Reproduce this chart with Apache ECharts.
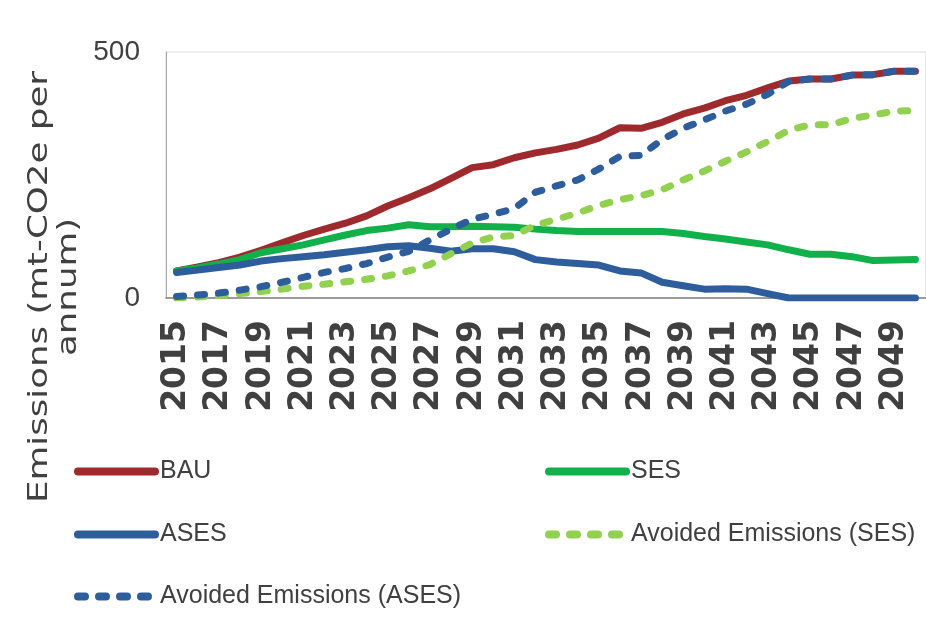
<!DOCTYPE html>
<html>
<head>
<meta charset="utf-8">
<script src="https://cdn.jsdelivr.net/npm/echarts@6/dist/echarts.min.js"></script>
<style>
html,body{margin:0;padding:0;background:#fff;}
#chart{width:926px;height:618px;}
</style>
</head>
<body>
<div id="chart"></div>
<script>
const years = ['2015','2016','2017','2018','2019','2020','2021','2022','2023','2024','2025','2026','2027','2028','2029','2030','2031','2032','2033','2034','2035','2036','2037','2038','2039','2040','2041','2042','2043','2044','2045','2046','2047','2048','2049','2050'];
const bau = [55,63,72,83,97,112,127,140,152,167,187,204,222,243,265,271,285,295,302,311,325,346,345,357,374,386,401,412,427,441,445,445,453,454,461,461];
const ses = [55,61,69,78,92,100,108,118,128,137,142,149,145,145,146,145,144,140,137,135,135,135,135,135,131,125,120,114,108,98,89,89,84,76,77,78];
const ases = [52,57,62,67,75,80,84,88,93,98,104,106,101,95,100,100,94,78,73,70,67,55,51,32,25,18,19,18,9,0,0,0,0,0,0,0];
const avoidedSes = [0,2,5,9,13,18,24,28,33,38,45,55,68,90,112,124,127,148,160,173,188,200,208,220,240,258,278,297,318,341,352,352,365,372,380,381];
const avoidedAses = [3,6,10,16,23,32,42,52,60,70,83,95,118,140,160,170,182,215,228,240,262,288,290,322,345,362,380,394,414,440,445,445,453,454,461,461];
const yTicks = [0, 500];
const seriesNames = ['BAU','SES','ASES','Avoided Emissions (SES)','Avoided Emissions (ASES)'];

const colors = {
  bau: '#9E2A2D',
  ses: '#12B04B',
  ases: '#2E5D9C',
  avSes: '#92D050',
  avAses: '#2E5D9C'
};

const chart = echarts.init(document.getElementById('chart'), null, {renderer: 'canvas'});

const legendText = {fontSize: 25, fontFamily: '"Liberation Sans", Arial, sans-serif', color: '#404040'};
function mkLegend(name, left, top) {
  return {
    data: [name], left: left, top: top, padding: 0, itemGap: 0,
    itemWidth: 77, itemHeight: 16, selectedMode: false,
    itemStyle: {opacity: 0},
    lineStyle: {width: 8, cap: 'round'},
    textStyle: legendText
  };
}

function mkSeries(name, data, color, dashed) {
  return {
    name: name, type: 'line', data: data, symbol: 'none', showSymbol: false,
    smooth: false, animation: false,
    lineStyle: {color: color, width: 7, type: dashed ? [7, 14] : 'solid', cap: 'round', join: 'round'},
    itemStyle: {color: color}
  };
}

chart.setOption({
  animation: false,
  backgroundColor: '#ffffff',
  grid: {left: 166, right: 0, top: 52, bottom: 320, show: true, borderColor: '#d9d9d9', borderWidth: 1, containLabel: false},
  legend: [
    mkLegend(seriesNames[0], 74, 459),
    mkLegend(seriesNames[1], 545, 459),
    mkLegend(seriesNames[2], 74, 522),
    mkLegend(seriesNames[3], 545, 522),
    mkLegend(seriesNames[4], 74, 584)
  ],
  xAxis: {
    type: 'category', data: years, boundaryGap: true,
    axisTick: {show: false},
    axisLine: {lineStyle: {color: '#808080', width: 1.5}},
    axisLabel: {interval: 1, rotate: 90, margin: 22, fontSize: 33, fontWeight: 'bold', fontFamily: '"DejaVu Sans", sans-serif', color: '#404040'}
  },
  yAxis: {
    type: 'value', min: yTicks[0], max: yTicks[1], interval: yTicks[1] - yTicks[0],
    splitLine: {show: false},
    axisTick: {show: false},
    axisLine: {show: true, lineStyle: {color: '#a6a6a6', width: 1}},
    axisLabel: {margin: 26, fontSize: 28, fontFamily: '"Liberation Sans", Arial, sans-serif', color: '#404040'}
  },
  graphic: [{
    type: 'text', x: 54, y: 287, rotation: Math.PI / 2, scaleX: 1.32,
    style: {
      text: 'Emissions (mt-CO2e per\nannum)',
      font: '27px "DejaVu Sans", sans-serif', fill: '#404040',
      align: 'center', verticalAlign: 'middle', lineHeight: 29
    }
  }],
  series: [
    mkSeries(seriesNames[0], bau, colors.bau, false),
    mkSeries(seriesNames[1], ses, colors.ses, false),
    mkSeries(seriesNames[2], ases, colors.ases, false),
    mkSeries(seriesNames[3], avoidedSes, colors.avSes, true),
    mkSeries(seriesNames[4], avoidedAses, colors.avAses, true)
  ]
});
</script>
</body>
</html>
